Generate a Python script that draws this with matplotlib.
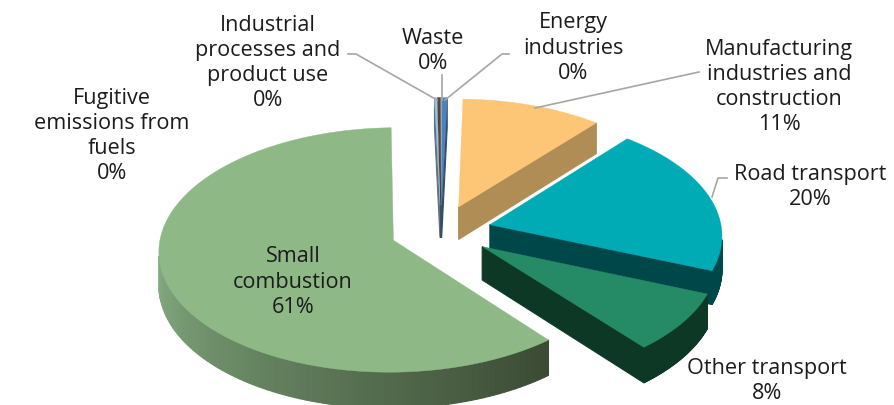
#!/usr/bin/env python
import numpy as np
import matplotlib
matplotlib.use("Agg")
import matplotlib.pyplot as plt
from matplotlib.patches import Polygon

# slices, clockwise from north
names = ["Energy\nindustries", "Manufacturing\nindustries and\nconstruction", "Road transport",
         "Other transport", "Small\ncombustion", "Fugitive\nemissions from\nfuels",
         "Industrial\nprocesses and\nproduct use", "Waste"]
values = [0.42, 10.7, 20.0, 7.9, 60.56, 0.2, 0.17, 0.05]
top_colors = ["#4f81bd", "#fdc576", "#00abb5", "#258a66", "#8eb987", "#9cc3d5", "#5a4438", "#8a8a8a"]
wall_colors = ["#2f4d70", "#b08d55", "#00474a", "#0d3826", "#3a4a33", "#5f7080", "#2c221c", "#404040"]
label_xy = [(573, 48), (779, 87), (810, 187), (767, 381), (293, 282), (112, 136), (268, 63), (433, 51)]
leaders = [[(445, 100), (502, 54), (509, 54)], [(535, 108), (699, 72)], [(712, 197), (718, 178), (727, 178)],
           [], [], [], [(437, 100), (356, 54), (348, 54)], [(442, 100), (442, 75)]]

start_angle = 0.0  # degrees clockwise from north
explode = 0.218
cx, cy = 441, 231
rx, ry = 232, 120
persp = 0.079
depth = 33

plt.rcParams["font.family"] = ["Open Sans", "DejaVu Sans"]
fig = plt.figure(figsize=(8.94, 4.05), dpi=100)
ax = fig.add_axes([0, 0, 1, 1])
ax.set_xlim(0, 894)
ax.set_ylim(405, 0)
ax.axis("off")


def project(u, v):
    d = 1 + persp * v
    return cx + rx * u / d, cy - ry * v / d, depth / d


def shade(c1, c2, t):
    a = np.array(matplotlib.colors.to_rgb(c1))
    b = np.array(matplotlib.colors.to_rgb(c2))
    return tuple(a + (b - a) * t)


def wall(x, y, dep, color, z, grad=None):
    # strip hanging below a top edge, cut in pieces so it can shade
    for j in range(len(x) - 1):
        col = color if grad is None else shade(color, grad, j / (len(x) - 2))
        pts = [(x[j], y[j]), (x[j + 1], y[j + 1]), (x[j + 1], y[j + 1] + dep[j + 1]), (x[j], y[j] + dep[j])]
        ax.add_patch(Polygon(pts, closed=True, fc=col, ec=col, lw=0.8, zorder=z))


total = sum(values)
edges = start_angle + np.cumsum([0] + values) / total * 360
draw_order = [7, 6, 5, 0, 1, 2, 3, 4]
for z, i in enumerate(draw_order):
    a0, a1 = np.radians(edges[i]), np.radians(edges[i + 1])
    mid = (a0 + a1) / 2
    ou, ov = explode * np.sin(mid), explode * np.cos(mid)
    t = np.linspace(a0, a1, 160)
    x, y, dep = project(ou + np.sin(t), ov + np.cos(t))
    ax0, ay0, ad0 = project(ou, ov)
    zz = 2 * z + 2
    # outer wall, only the part that faces the viewer
    front = np.cos(t) < -0.12
    if front.any():
        idx = np.where(front)[0]
        grad = "#84ab80" if i == 4 else None
        wall(x[idx], y[idx], dep[idx], wall_colors[i], zz, grad)
    # radial walls: trailing edge faces down and to the right on the eastern slices
    if i < 4:
        wall(np.array([ax0, x[-1]]), np.array([ay0, y[-1]]), np.array([ad0, dep[-1]]), wall_colors[i], zz)
    if i in (5, 6, 7):
        wall(np.array([ax0, x[0]]), np.array([ay0, y[0]]), np.array([ad0, dep[0]]), wall_colors[i], zz)
    ax.add_patch(Polygon(np.column_stack([np.r_[ax0, x], np.r_[ay0, y]]), closed=True,
                         fc=top_colors[i], ec=top_colors[i], lw=0.3, zorder=zz + 1))

for pts in leaders:
    if pts:
        ax.plot([p[0] for p in pts], [p[1] for p in pts], color="#a6a6a6", lw=1.2, zorder=40)

for name, v, (lx, ly) in zip(names, values, label_xy):
    ax.text(lx, ly, f"{name}\n{v / total * 100:.0f}%", ha="center", va="center", fontsize=15.6,
            color="#1c1c1c", linespacing=1.26, zorder=50)

fig.savefig("out.png", dpi=100)
